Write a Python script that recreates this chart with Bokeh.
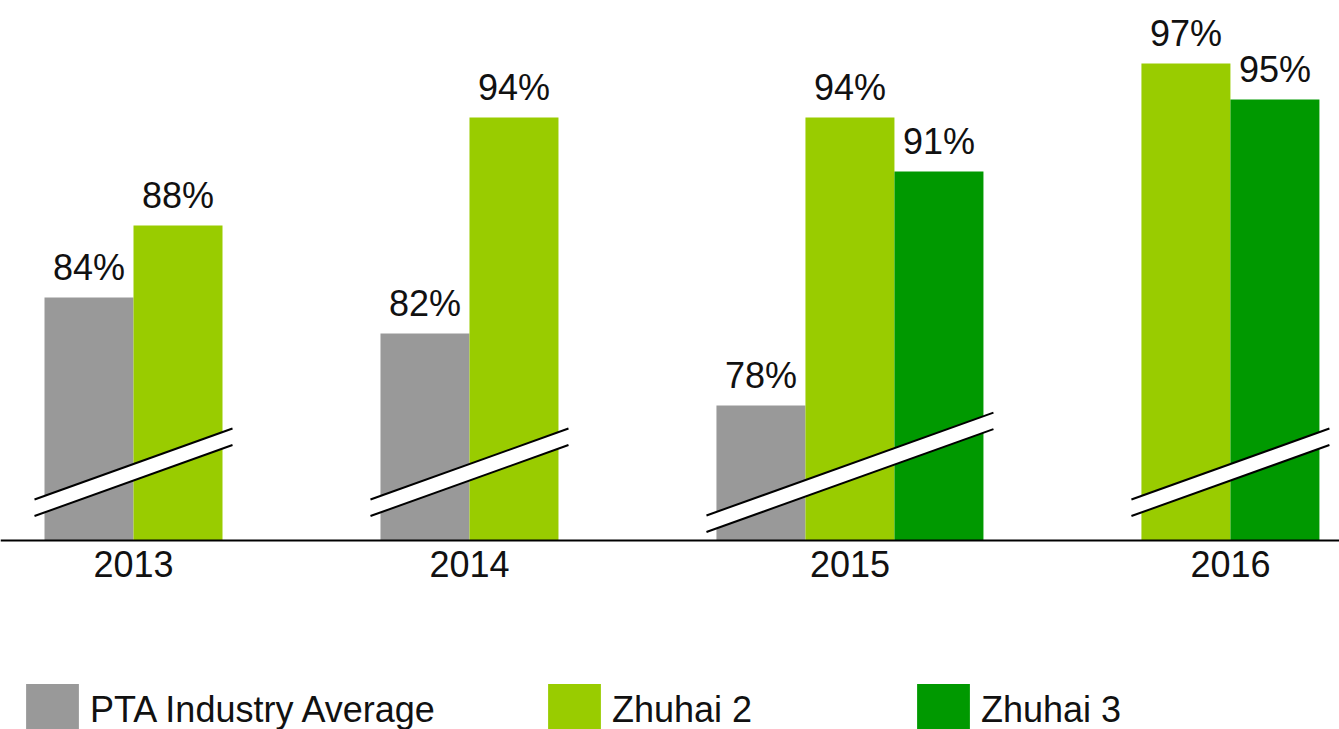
from bokeh.plotting import figure
from bokeh.models import Range1d, Span, Legend, LegendItem, ColumnDataSource
from bokeh.core.properties import value
from bokeh.embed import file_html
from bokeh.resources import INLINE

# ---- data ----
years = ["2013", "2014", "2015", "2016"]
series = ["PTA Industry Average", "Zhuhai 2", "Zhuhai 3"]
pta = [84, 82, 78, None]
zhuhai2 = [88, 94, 94, 97]
zhuhai3 = [None, None, 91, 95]
colors = ["#999999", "#99cc00", "#009900"]

# ---- layout / style constants ----
FONT = "Liberation Sans"
TXT = "#111111"
W, H = 1339, 729
PX_X = 89.0          # pixels per slot
PX_Y = 18.0          # pixels per percent
BASE = 70.5          # value where bars start (axis is broken)
GROUP_STEP = 3.775   # slots between group starts
X0 = -0.9944
Y0 = 60.0
BREAK_Y = 74.29
BREAK_HALF = 16.5 / PX_Y / 2
BREAK_SLOPE = 0.3586 * PX_X / PX_Y
BREAK_PAD = 10 / PX_X

p = figure(width=W, height=H, output_backend="svg", toolbar_location=None,
           x_range=Range1d(X0, X0 + W / PX_X), y_range=Range1d(Y0, Y0 + H / PX_Y),
           x_axis_type=None, y_axis_type=None, min_border=0,
           outline_line_color=None, background_fill_color="white")

all_series = [pta, zhuhai2, zhuhai3]
renderers = []
for si, (vals, color) in enumerate(zip(all_series, colors)):
    xs = [gi * GROUP_STEP + si for gi, v in enumerate(vals) if v is not None]
    tops = [v for v in vals if v is not None]
    src = ColumnDataSource(dict(x=xs, top=tops, label=[f"{v}%" for v in tops]))
    r = p.vbar(x="x", top="top", bottom=BASE, width=1.0, fill_color=color,
               line_color=None, source=src)
    renderers.append(r)
    p.text(x="x", y="top", text="label", source=src, text_align="center",
           text_baseline="alphabetic", y_offset=-30, text_font=value(FONT),
           text_font_size="36px", text_color=TXT)

# break marks and category labels
bx, by, l1x0, l1y0, l1x1, l1y1, l2y0, l2y1 = [], [], [], [], [], [], [], []
cat_x = []
for gi, yr in enumerate(years):
    slots = [si for si, vals in enumerate(all_series) if vals[gi] is not None]
    left = gi * GROUP_STEP + min(slots) - 0.5 - BREAK_PAD
    right = gi * GROUP_STEP + max(slots) + 0.5 + BREAK_PAD
    xc = (left + right) / 2
    cat_x.append(gi * GROUP_STEP + sum(slots) / len(slots))
    up_l = BREAK_Y + BREAK_HALF + BREAK_SLOPE * (left - xc)
    up_r = BREAK_Y + BREAK_HALF + BREAK_SLOPE * (right - xc)
    lo_l = BREAK_Y - BREAK_HALF + BREAK_SLOPE * (left - xc)
    lo_r = BREAK_Y - BREAK_HALF + BREAK_SLOPE * (right - xc)
    bx.append([left, right, right, left])
    by.append([up_l, up_r, lo_r, lo_l])
    l1x0.append(left); l1x1.append(right)
    l1y0.append(up_l); l1y1.append(up_r)
    l2y0.append(lo_l); l2y1.append(lo_r)

p.patches(xs=bx, ys=by, fill_color="white", line_color=None)
p.segment(x0=l1x0, y0=l1y0, x1=l1x1, y1=l1y1, line_color="black", line_width=2)
p.segment(x0=l1x0, y0=l2y0, x1=l1x1, y1=l2y1, line_color="black", line_width=2)

p.add_layout(Span(location=BASE, dimension="width", line_color="black", line_width=2))

p.text(x=cat_x, y=[BASE] * len(years), text=years, text_align="center",
       text_baseline="alphabetic", y_offset=23, text_font=value(FONT),
       text_font_size="36px", text_color=TXT)

# legends
leg_x = [19, 541, 910]
for r, name, lx in zip(renderers, series, leg_x):
    leg = Legend(items=[LegendItem(label=name, renderers=[r])], location=(lx, -14),
                 glyph_width=66, glyph_height=66, label_height=66, label_standoff=5,
                 label_text_font=FONT, label_text_font_size="36px",
                 label_text_color=TXT, padding=0, margin=0, spacing=0,
                 border_line_color=None, background_fill_alpha=0)
    p.add_layout(leg)

open("out.html", "w").write(file_html(p, INLINE))
